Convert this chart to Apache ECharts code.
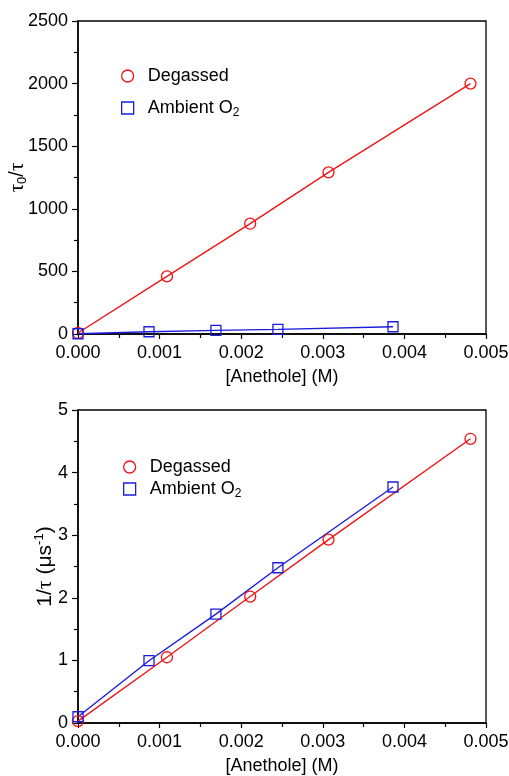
<!DOCTYPE html>
<html><head><meta charset="utf-8">
<script src="https://cdn.jsdelivr.net/npm/echarts@6/dist/echarts.min.js"></script>
<style>html,body{margin:0;padding:0;background:#fff}#c{width:509px;height:776px}</style>
</head><body><div id="c"></div>
<script>
const anetholeDegassed = [0, 0.00109, 0.00211, 0.00307, 0.00481];
const anetholeAmbient = [0, 0.00087, 0.00169, 0.00245, 0.00386];
const tauRatioDegassed = [8, 460, 881, 1291, 2000];
const tauRatioAmbient = [2, 18, 29, 37, 58];
const invTauDegassed = [0.03, 1.05, 2.02, 2.93, 4.54];
const invTauAmbient = [0.1, 0.995, 1.74, 2.48, 3.77];
const seriesNames = ['Degassed', 'Ambient O2'];

const RED = '#f01414', BLUE = '#1c1cdc';
const FONT = 'Liberation Sans, Arial, sans-serif';
const SERIF = 'Liberation Serif, Times New Roman, serif';
const FS = 18;
const pairs = (xs, ys) => xs.map((x, i) => [x, ys[i]]);

const chart = echarts.init(document.getElementById('c'), null, {renderer: 'canvas'});

function xAxis(gi) {
  return {
    type: 'value', gridIndex: gi, min: 0, max: 0.005, interval: 0.001,
    name: '[Anethole] (M)', nameLocation: 'middle', nameGap: 34, nameMoveOverlap: false,
    nameTextStyle: {fontFamily: FONT, fontSize: FS, color: '#000'},
    axisLine: {show: true, onZero: false, lineStyle: {color: '#000', width: 1.5}},
    axisTick: {show: true, inside: false, length: 5, lineStyle: {color: '#000', width: 1.2}},
    minorTick: {show: true, splitNumber: 2, length: 4, lineStyle: {color: '#000', width: 1.2}},
    splitLine: {show: false},
    axisLabel: {fontFamily: FONT, fontSize: FS, color: '#000', margin: 10, formatter: v => v.toFixed(3)}
  };
}
function yAxis(gi, max, interval, name, gap, fs) {
  return {
    type: 'value', gridIndex: gi, min: 0, max: max, interval: interval,
    name: name, nameLocation: 'middle', nameRotate: 90, nameGap: gap, nameMoveOverlap: false,
    nameTextStyle: {fontFamily: FONT, fontSize: fs, color: '#000',
      rich: {
        t: {fontFamily: FONT, fontSize: fs, color: '#000', lineHeight: fs + 4},
        g: {fontFamily: SERIF, fontSize: fs + 1, color: '#000', lineHeight: fs + 4},
        sub: {fontFamily: FONT, fontSize: 13, color: '#000', verticalAlign: 'bottom', lineHeight: 13, padding: [10, 0, 0, 0]},
        sup: {fontFamily: FONT, fontSize: 13, color: '#000', verticalAlign: 'top', lineHeight: 13, padding: [0, 0, 10, 0]}
      }},
    axisLine: {show: true, onZero: false, lineStyle: {color: '#000', width: 1.5}},
    axisTick: {show: true, inside: false, length: 6, lineStyle: {color: '#000', width: 1.2}},
    minorTick: {show: true, splitNumber: 2, length: 4, lineStyle: {color: '#000', width: 1.2}},
    splitLine: {show: false},
    axisLabel: {fontFamily: FONT, fontSize: FS, color: '#000', margin: 10, formatter: v => String(v)}
  };
}
function series(name, gi, xs, ys, color, symbol, size) {
  return {
    name: name, type: 'line', xAxisIndex: gi, yAxisIndex: gi,
    data: pairs(xs, ys), symbol: symbol, symbolSize: size, showSymbol: true,
    lineStyle: {color: color, width: 1.4},
    itemStyle: {color: 'rgba(0,0,0,0)', borderColor: color, borderWidth: 1.3},
    emphasis: {disabled: true}, z: 3
  };
}
function legend(left, top, gap) {
  return {
    orient: 'vertical', left: left, top: top, itemGap: gap,
    itemWidth: 30, itemHeight: 12, selectedMode: false,
    data: [
      {name: seriesNames[0], icon: 'circle', itemStyle: {color: 'rgba(0,0,0,0)', borderColor: RED, borderWidth: 1.3}},
      {name: seriesNames[1], icon: 'path://M0,0H10V10H0Z', itemStyle: {color: 'rgba(0,0,0,0)', borderColor: BLUE, borderWidth: 1.3}}
    ],
    formatter: n => n === 'Ambient O2' ? 'Ambient O{sub|2}' : n,
    textStyle: {fontFamily: FONT, fontSize: FS, color: '#000',
      rich: {sub: {fontFamily: FONT, fontSize: 12, color: '#000', verticalAlign: 'bottom', padding: [10, 0, 0, 0]}}}
  };
}

chart.setOption({
  animation: false,
  grid: [
    {left: 78, top: 21, width: 408, height: 313, containLabel: false, outerBoundsMode: 'none', show: true, borderColor: '#000', borderWidth: 1.3, backgroundColor: 'transparent'},
    {left: 78, top: 410, width: 408, height: 313, containLabel: false, outerBoundsMode: 'none', show: true, borderColor: '#000', borderWidth: 1.3, backgroundColor: 'transparent'}
  ],
  legend: [legend(116, 62, 14), legend(118, 453, 4)],
  xAxis: [xAxis(0), xAxis(1)],
  yAxis: [
    yAxis(0, 2500, 500, '{g|τ}{sub|0}{t|/}{g|τ}', 49, 20),
    yAxis(1, 5, 1, '{t|1/}{g|τ}{t| (μs}{sup|-1}{t|)}', 20, 21)
  ],
  series: [
    series(seriesNames[0], 0, anetholeDegassed, tauRatioDegassed, RED, 'circle', 11),
    series(seriesNames[1], 0, anetholeAmbient, tauRatioAmbient, BLUE, 'rect', 10),
    series(seriesNames[0], 1, anetholeDegassed, invTauDegassed, RED, 'circle', 11),
    series(seriesNames[1], 1, anetholeAmbient, invTauAmbient, BLUE, 'rect', 10)
  ]
});
</script></body></html>
